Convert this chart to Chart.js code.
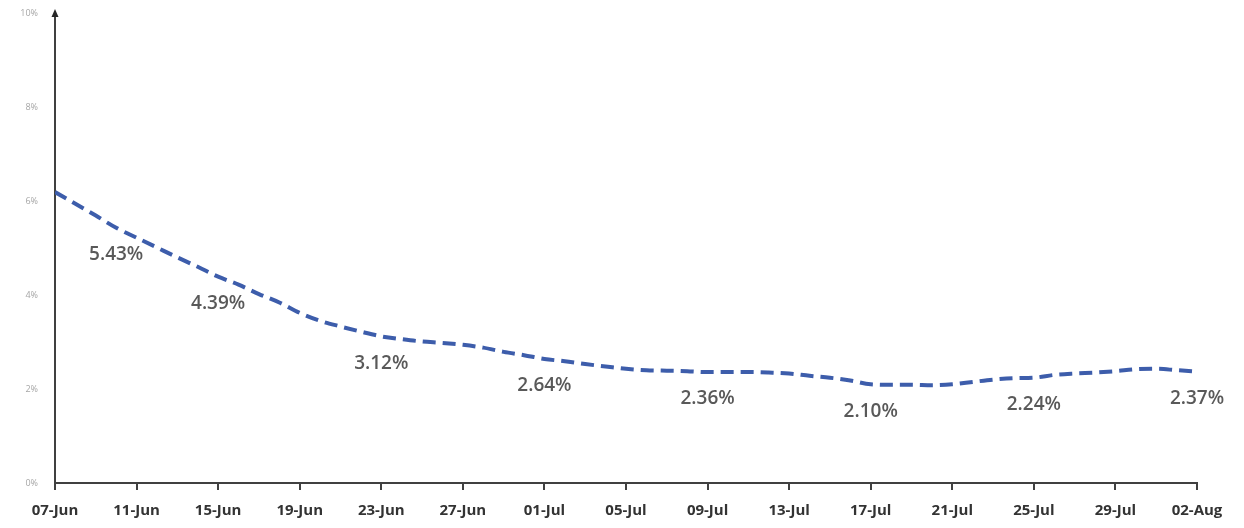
<!DOCTYPE html>
<html lang="en">
<head>
  <meta charset="UTF-8" />
  <title>Rate 07-Jun to 02-Aug</title>
  <script src="https://cdn.jsdelivr.net/npm/chart.js@4.4.1/dist/chart.umd.min.js"></script>
  <style>
    html, body { margin: 0; padding: 0; background: #fff; }
    #wrap { width: 1244px; height: 528px; position: relative; }
  </style>
</head>
<body>
  <div id="wrap"><canvas id="rateChart"></canvas></div>

<script>
  // x axis tick labels, one every 4 days (day 0 = 07-Jun)
  const tickLabels = ['07-Jun', '11-Jun', '15-Jun', '19-Jun', '23-Jun', '27-Jun', '01-Jul',
    '05-Jul', '09-Jul', '13-Jul', '17-Jul', '21-Jul', '25-Jul', '29-Jul', '02-Aug'];

  // daily values in % (57 days)
  const rates = [
    6.19, 5.94, 5.69, 5.43, 5.22, 5.01, 4.80, 4.60, 4.39, 4.22,
    4.02, 3.84, 3.62, 3.45, 3.33, 3.22, 3.12, 3.06, 3.01, 2.98,
    2.94, 2.88, 2.79, 2.72, 2.64, 2.59, 2.53, 2.48, 2.43, 2.40,
    2.39, 2.38, 2.36, 2.36, 2.36, 2.35, 2.33, 2.28, 2.24, 2.18,
    2.10, 2.09, 2.09, 2.08, 2.10, 2.15, 2.20, 2.23, 2.24, 2.30,
    2.33, 2.35, 2.38, 2.42, 2.43, 2.40, 2.37
  ];

  // days that carry a value label
  const labelDays = [3, 8, 16, 24, 32, 40, 48, 56];

  const yTicks = [0, 2, 4, 6, 8, 10];

  // --- small plugins: value labels under the line + arrow on the y axis ---
  const valueLabels = {
    id: 'valueLabels',
    afterDatasetsDraw(chart) {
      const ctx = chart.ctx;
      const meta = chart.getDatasetMeta(0);
      ctx.save();
      ctx.font = '600 19px "Open Sans", sans-serif';
      ctx.fillStyle = '#595959';
      ctx.textAlign = 'center';
      ctx.textBaseline = 'middle';
      labelDays.forEach(d => {
        const pt = meta.data[d];
        ctx.fillText(rates[d].toFixed(2) + '%', pt.x, pt.y + 27);
      });
      ctx.restore();
    }
  };

  const axisArrow = {
    id: 'axisArrow',
    afterDraw(chart) {
      const { ctx, chartArea } = chart;
      const x = chartArea.left;
      const top = chartArea.top;
      ctx.save();
      ctx.fillStyle = '#262626';
      ctx.beginPath();
      ctx.moveTo(x, top - 4);
      ctx.lineTo(x - 3.5, top + 4);
      ctx.lineTo(x + 3.5, top + 4);
      ctx.closePath();
      ctx.fill();
      ctx.restore();
    }
  };

  new Chart(document.getElementById('rateChart'), {
    type: 'line',
    data: {
      datasets: [{
        data: rates.map((v, i) => ({ x: i, y: v })),
        borderColor: '#3D5DAB',
        borderWidth: 4,
        borderDash: [13, 7],
        pointRadius: 0,
        tension: 0.4,
        cubicInterpolationMode: 'monotone',
        fill: false
      }]
    },
    options: {
      responsive: true,
      maintainAspectRatio: false,
      animation: false,
      devicePixelRatio: 1,
      layout: { padding: { top: 13, right: 47, left: 0, bottom: 0 } },
      plugins: {
        legend: { display: false },
        tooltip: { enabled: false }
      },
      scales: {
        x: {
          type: 'linear',
          min: 0,
          max: 56,
          afterBuildTicks(scale) {
            scale.ticks = tickLabels.map((_, i) => ({ value: i * 4 }));
          },
          afterFit(scale) { scale.height = 45; },
          grid: {
            drawOnChartArea: false,
            drawTicks: true,
            tickLength: 7,
            color: '#404040',
            lineWidth: 2
          },
          border: { display: true, color: '#404040', width: 2 },
          ticks: {
            maxRotation: 0,
            autoSkip: false,
            padding: 12,
            color: '#333333',
            font: { family: '"Open Sans", sans-serif', size: 15, weight: 'bold' },
            callback: (v) => tickLabels[v / 4]
          }
        },
        y: {
          min: 0,
          max: 10,
          afterBuildTicks(scale) {
            scale.ticks = yTicks.map(v => ({ value: v }));
          },
          afterFit(scale) {
            scale.width = 55;
            scale.paddingTop = 0;
            scale.paddingBottom = 0;
          },
          grid: { display: false, drawTicks: false },
          border: { display: true, color: '#404040', width: 2 },
          ticks: {
            padding: 17,
            color: '#A6A6A6',
            font: { family: '"Open Sans", sans-serif', size: 9 },
            callback: (v) => v + '%'
          }
        }
      }
    },
    plugins: [valueLabels, axisArrow]
  });
</script>
</body>
</html>
